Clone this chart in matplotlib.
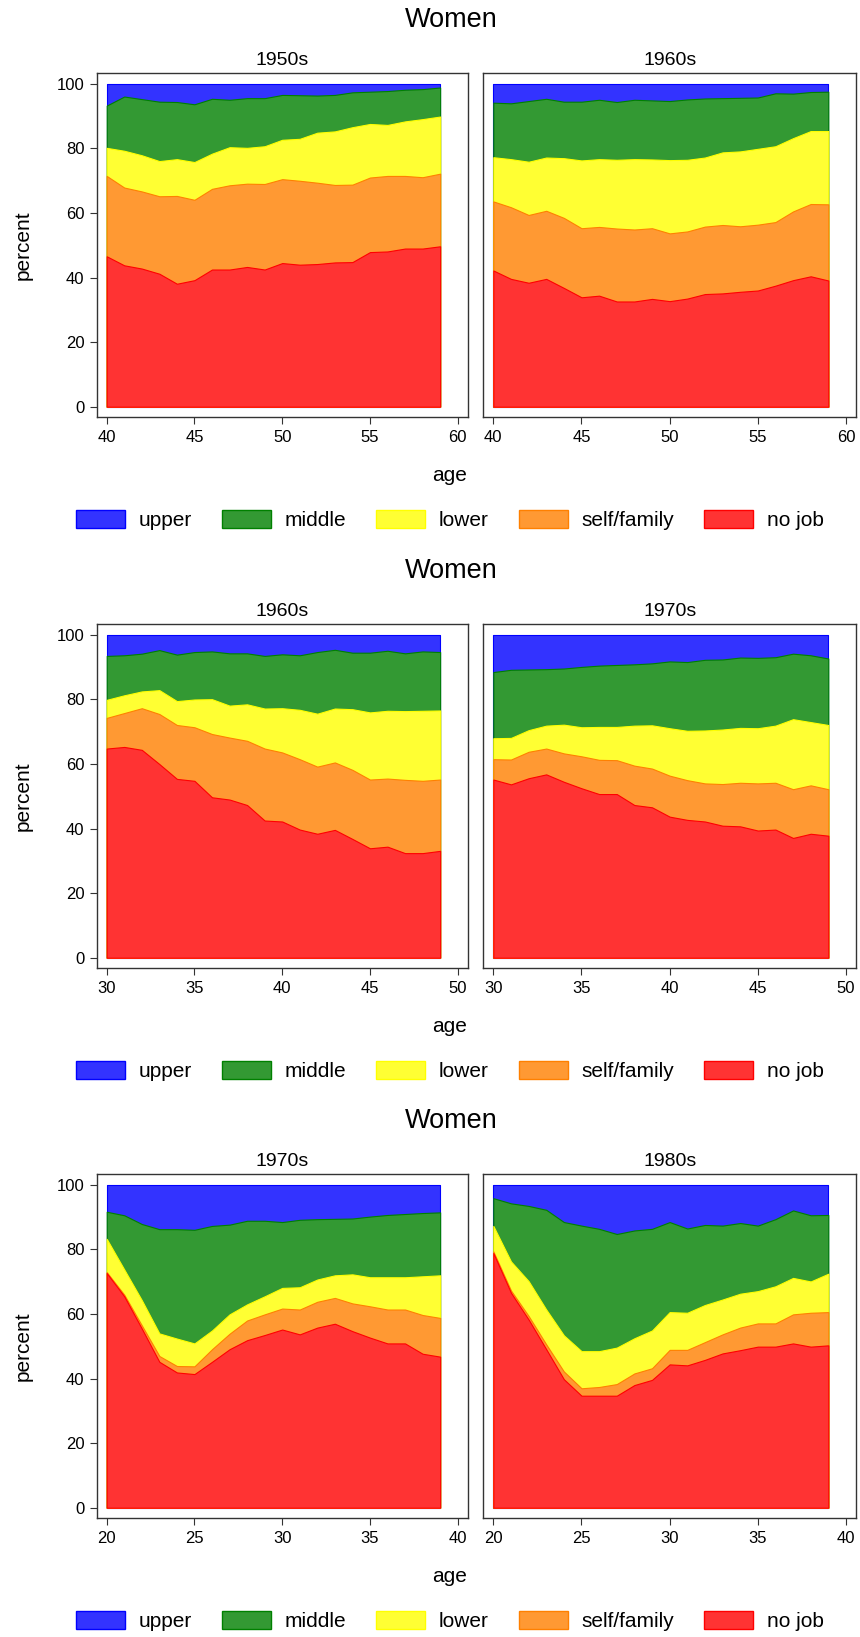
import matplotlib
matplotlib.use("Agg")
import matplotlib.pyplot as plt
from matplotlib.patches import Patch

plt.rcParams["font.family"] = ["Liberation Sans", "DejaVu Sans"]

W, H = 860, 1637

# Cumulative upper edge of each band (percent); "upper" always tops out at 100.
AGES_40 = list(range(40, 60))
AGES_30 = list(range(30, 50))
AGES_20 = list(range(20, 40))

# 1950s cohort, ages 40-59
A_NOJOB = [46.6, 43.8, 42.8, 41.2, 38.1, 39.2, 42.5, 42.5, 43.3, 42.5, 44.5, 44.0, 44.2, 44.7, 44.8, 47.9, 48.1, 49.0, 49.0, 49.7]
A_SELF = [71.5, 67.9, 66.7, 65.2, 65.3, 64.1, 67.5, 68.6, 69.1, 69.0, 70.5, 70.0, 69.4, 68.7, 68.8, 71.0, 71.5, 71.5, 71.1, 72.2]
A_LOWER = [80.2, 79.3, 77.9, 76.1, 76.7, 75.8, 78.4, 80.4, 80.2, 80.7, 82.7, 83.0, 84.9, 85.3, 86.6, 87.6, 87.3, 88.4, 89.1, 89.9]
A_MIDDLE = [93.3, 96.1, 95.3, 94.5, 94.4, 93.7, 95.4, 95.1, 95.6, 95.6, 96.6, 96.5, 96.4, 96.6, 97.4, 97.6, 97.8, 98.2, 98.4, 98.9]

# 1960s cohort, ages 40-59
B_NOJOB = [42.2, 39.6, 38.4, 39.6, 36.8, 33.9, 34.4, 32.6, 32.6, 33.4, 32.7, 33.5, 34.9, 35.1, 35.6, 36.0, 37.5, 39.2, 40.4, 39.1]
B_SELF = [63.6, 61.8, 59.4, 60.7, 58.5, 55.3, 55.7, 55.2, 54.9, 55.3, 53.7, 54.3, 55.8, 56.3, 55.9, 56.4, 57.2, 60.5, 62.8, 62.7]
B_LOWER = [77.3, 76.7, 75.9, 77.2, 77.0, 76.3, 76.7, 76.5, 76.7, 76.6, 76.4, 76.5, 77.2, 78.8, 79.1, 79.9, 80.7, 83.2, 85.4, 85.4]
B_MIDDLE = [94.2, 94.0, 94.7, 95.4, 94.5, 94.5, 95.1, 94.4, 95.1, 94.9, 94.7, 95.2, 95.5, 95.6, 95.7, 95.8, 97.1, 97.0, 97.5, 97.6]

# 1960s cohort, ages 30-49
C_NOJOB = [64.8, 65.3, 64.4, 60.0, 55.4, 54.8, 49.7, 49.0, 47.3, 42.5, 42.2, 39.7, 38.4, 39.6, 36.8, 33.9, 34.4, 32.4, 32.4, 33.1]
C_SELF = [74.3, 75.8, 77.3, 75.5, 72.1, 71.4, 69.3, 68.2, 67.2, 64.8, 63.6, 61.5, 59.2, 60.5, 58.2, 55.2, 55.5, 55.1, 54.8, 55.2]
C_LOWER = [79.9, 81.3, 82.5, 82.9, 79.5, 80.0, 80.1, 78.1, 78.5, 77.2, 77.3, 76.8, 75.6, 77.2, 77.0, 76.0, 76.5, 76.4, 76.5, 76.6]
C_MIDDLE = [93.5, 93.7, 94.2, 95.3, 93.9, 94.7, 94.9, 94.3, 94.3, 93.5, 94.0, 93.7, 94.7, 95.4, 94.5, 94.5, 95.1, 94.3, 94.9, 94.7]

# 1970s cohort, ages 30-49
D_NOJOB = [55.2, 53.7, 55.6, 56.8, 54.5, 52.5, 50.7, 50.7, 47.3, 46.6, 43.7, 42.7, 42.2, 40.9, 40.7, 39.4, 39.7, 37.1, 38.4, 37.8]
D_SELF = [61.5, 61.4, 63.8, 64.8, 63.3, 62.4, 61.3, 61.2, 59.5, 58.6, 56.4, 55.0, 54.0, 53.8, 54.2, 54.0, 54.2, 52.2, 53.4, 52.2]
D_LOWER = [68.0, 68.1, 70.5, 71.9, 72.2, 71.4, 71.5, 71.5, 71.9, 72.0, 71.1, 70.3, 70.4, 70.7, 71.2, 71.1, 71.9, 73.9, 73.0, 72.1]
D_MIDDLE = [88.5, 89.2, 89.3, 89.4, 89.6, 90.1, 90.5, 90.7, 90.9, 91.2, 91.8, 91.6, 92.3, 92.4, 93.0, 92.9, 93.1, 94.2, 93.7, 92.7]

# 1970s cohort, ages 20-39
E_NOJOB = [72.7, 65.5, 55.5, 45.2, 41.9, 41.4, 45.2, 49.1, 51.9, 53.5, 55.2, 53.7, 55.8, 57.0, 54.7, 52.7, 50.9, 50.9, 47.7, 46.8]
E_SELF = [73.0, 66.0, 56.5, 47.0, 43.9, 43.8, 49.1, 53.9, 58.0, 59.9, 61.7, 61.4, 63.8, 65.0, 63.3, 62.4, 61.4, 61.4, 59.7, 58.8]
E_LOWER = [83.3, 73.8, 64.3, 54.0, 52.4, 50.9, 54.9, 59.9, 63.0, 65.5, 68.1, 68.3, 70.7, 72.0, 72.3, 71.4, 71.4, 71.4, 71.7, 72.0]
E_MIDDLE = [91.7, 90.6, 87.9, 86.3, 86.3, 86.1, 87.3, 87.7, 88.9, 88.9, 88.5, 89.2, 89.4, 89.5, 89.6, 90.2, 90.7, 91.0, 91.3, 91.5]

# 1980s cohort, ages 20-39
F_NOJOB = [78.9, 66.6, 58.3, 49.1, 39.8, 34.7, 34.7, 34.7, 38.0, 39.6, 44.4, 44.1, 45.8, 47.8, 48.8, 49.9, 49.9, 50.9, 49.9, 50.3]
F_SELF = [79.4, 67.3, 59.4, 50.6, 42.2, 37.0, 37.4, 38.3, 41.6, 43.2, 48.9, 48.9, 51.3, 53.7, 55.8, 57.1, 57.1, 59.9, 60.4, 60.6]
F_LOWER = [87.3, 76.3, 70.2, 61.4, 53.4, 48.5, 48.5, 49.6, 52.5, 54.9, 60.6, 60.4, 62.8, 64.5, 66.3, 67.1, 68.6, 71.2, 70.1, 72.5]
F_MIDDLE = [95.9, 94.3, 93.5, 92.3, 88.5, 87.4, 86.4, 84.8, 85.9, 86.4, 88.5, 86.5, 87.6, 87.4, 88.2, 87.4, 89.4, 92.1, 90.6, 90.7]

UPPER_TOP = 100

LABELS = ["upper", "middle", "lower", "self/family", "no job"]
# Stata-style: fill is the line colour at 80% intensity over white
FILLS = ["#3333ff", "#339933", "#ffff33", "#ff9933", "#ff3333"]
EDGES = ["#0000ff", "#008000", "#ffff00", "#ff8000", "#ff0000"]
FRAME = "#333333"

BLOCKS = [
    (0, [("1950s", AGES_40, A_NOJOB, A_SELF, A_LOWER, A_MIDDLE),
         ("1960s", AGES_40, B_NOJOB, B_SELF, B_LOWER, B_MIDDLE)], [40, 45, 50, 55, 60]),
    (551, [("1960s", AGES_30, C_NOJOB, C_SELF, C_LOWER, C_MIDDLE),
           ("1970s", AGES_30, D_NOJOB, D_SELF, D_LOWER, D_MIDDLE)], [30, 35, 40, 45, 50]),
    (1101, [("1970s", AGES_20, E_NOJOB, E_SELF, E_LOWER, E_MIDDLE),
            ("1980s", AGES_20, F_NOJOB, F_SELF, F_LOWER, F_MIDDLE)], [20, 25, 30, 35, 40]),
]

PANEL_X = [(96.7, 467.7), (483.3, 856.0)]


def add_axes_px(fig, x0, y0, x1, y1):
    return fig.add_axes([x0 / W, 1 - y1 / H, (x1 - x0) / W, (y1 - y0) / H])


fig = plt.figure(figsize=(W / 100, H / 100), dpi=100)
fig.patch.set_facecolor("white")

for dy, panels, ticks in BLOCKS:
    fig.text(451 / W, 1 - (20 + dy) / H, "Women", ha="center", va="center", fontsize=19.5)
    for j, (name, ages, nojob, selfemp, lower, middle) in enumerate(panels):
        x0, x1 = PANEL_X[j]
        ax = add_axes_px(fig, x0, 73.3 + dy, x1, 416.7 + dy)
        tops = [[UPPER_TOP] * len(ages), middle, lower, selfemp, nojob]
        for top, fc, ec in zip(tops, FILLS, EDGES):
            ax.fill_between(ages, 0, top, facecolor=fc, edgecolor=ec, linewidth=0.8)
        ax.set_xlim(ticks[0] - 0.57, ticks[-1] + 0.57)
        ax.set_ylim(-3.1, 103.3)
        ax.set_xticks(ticks)
        ax.set_yticks([0, 20, 40, 60, 80, 100])
        for spine in ax.spines.values():
            spine.set_color(FRAME)
            spine.set_linewidth(1.0)
        ax.tick_params(axis="both", direction="out", length=4.8, width=0.8,
                       color=FRAME, labelsize=12)
        ax.tick_params(axis="x", pad=5)
        ax.tick_params(axis="y", pad=4)
        if j == 1:
            ax.tick_params(axis="y", left=False, labelleft=False)
        ax.set_title(name, fontsize=14, pad=6)
        if j == 0:
            fig.text(23 / W, 1 - (245 + dy) / H, "percent", rotation=90,
                     ha="center", va="center", fontsize=15)
    fig.text(450 / W, 1 - (475 + dy) / H, "age", ha="center", va="center", fontsize=15)

    handles = [Patch(facecolor=fc, edgecolor=ec, linewidth=1.0) for fc, ec in zip(FILLS, EDGES)]
    fig.legend(handles, LABELS, loc="center", bbox_to_anchor=(450 / W, 1 - (520 + dy) / H),
               ncol=5, frameon=False, fontsize=15, handlelength=2.35, handleheight=0.92,
               handletextpad=0.65, columnspacing=1.45, borderpad=0)

fig.savefig("out.png", dpi=100, facecolor="white")
plt.close(fig)
